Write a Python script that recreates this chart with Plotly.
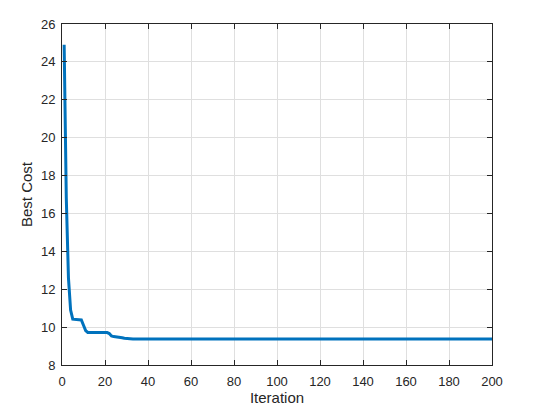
import plotly.graph_objects as go

iterations = list(range(1, 201))
best_cost = (
    [24.9, 16.8, 12.6, 10.9, 10.42, 10.40, 10.40, 10.40, 10.38, 10.1, 9.82, 9.72]
    + [9.71] * 9
    + [9.66, 9.53, 9.50, 9.49, 9.48, 9.46, 9.44, 9.41, 9.39]
    + [9.37] * 170
)

x_ticks = list(range(0, 201, 20))
y_ticks = list(range(8, 27, 2))

fig = go.Figure()
fig.add_trace(go.Scatter(
    x=iterations, y=best_cost, mode="lines",
    line=dict(color="#0072BD", width=3),
    showlegend=False,
))

font_family = "Liberation Sans, Arial, sans-serif"
axis_common = dict(
    showline=True, linecolor="#262626", linewidth=1, mirror="allticks",
    ticks="inside", ticklen=5, tickcolor="#262626",
    showgrid=True, gridcolor="#dfdfdf", gridwidth=1, zeroline=False,
    automargin=False,
    tickfont=dict(family=font_family, size=13, color="#262626"),
)

# page body has an 8px margin, so the figure is 536x400 and offsets compensate
fig.update_layout(
    width=536, height=400,
    margin=dict(l=54, r=52, t=16, b=43),
    paper_bgcolor="white", plot_bgcolor="white",
    xaxis=dict(range=[0, 200], tickvals=x_ticks, ticklabelstandoff=4,
               title=dict(text="Iteration", standoff=4,
                          font=dict(family=font_family, size=15, color="#262626")),
               **axis_common),
    yaxis=dict(range=[8, 26], tickvals=y_ticks, ticklabelstandoff=3,
               title=dict(text="Best Cost", standoff=4,
                          font=dict(family=font_family, size=15, color="#262626")),
               **axis_common),
)

fig.write_html("out.html")
